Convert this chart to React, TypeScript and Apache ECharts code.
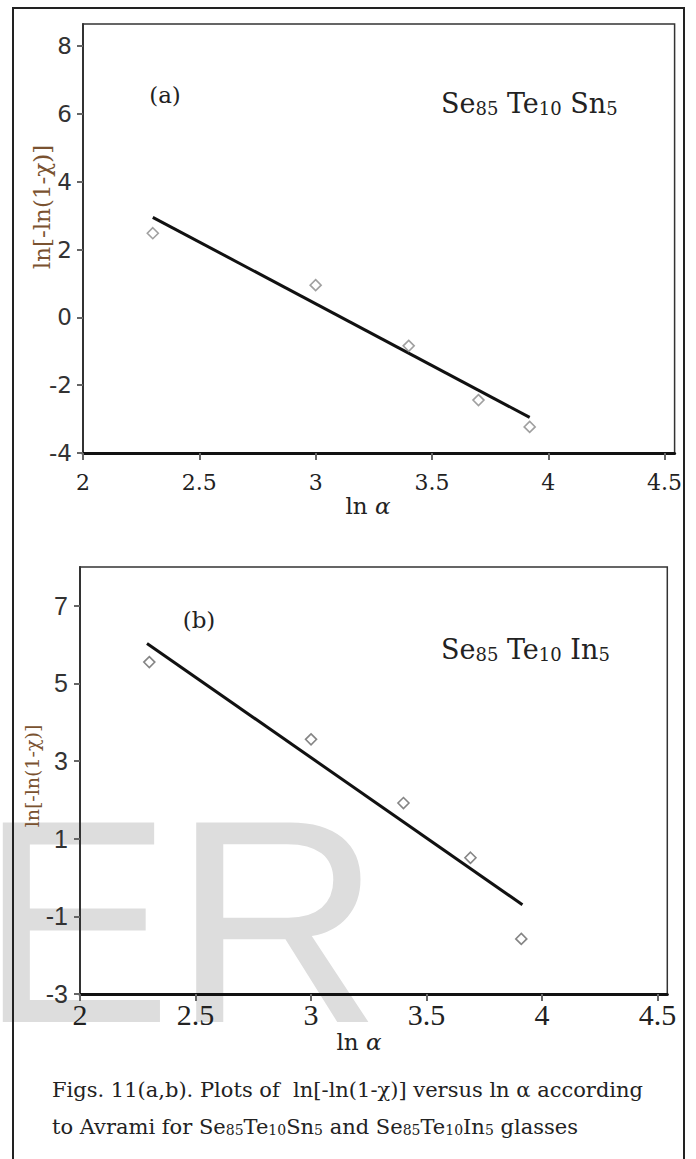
import React, { useEffect, useRef } from "react";
import * as echarts from "echarts";

// ---- Data ----
// (a) Se85Te10Sn5
const lnAlphaA = [2.3, 3.0, 3.4, 3.7, 3.92];
const avramiA = [2.48, 0.95, -0.84, -2.44, -3.23];
const fitXA = [2.3, 3.92];
const fitYA = [2.95, -2.95];

// (b) Se85Te10In5
const lnAlphaB = [2.3, 3.0, 3.4, 3.69, 3.91];
const avramiB = [5.55, 3.56, 1.92, 0.51, -1.58];
const fitXB = [2.29, 3.915];
const fitYB = [6.03, -0.7];

// Tick labels
const xTicks = [2, 2.5, 3, 3.5, 4, 4.5];
const yTicksA = [-4, -2, 0, 2, 4, 6, 8];
const yTicksB = [-3, -1, 1, 3, 5, 7];

const pairs = (xs: number[], ys: number[]) => xs.map((x, i) => [x, ys[i]]);

const SERIF = "DejaVu Serif";
const TIMES = "Liberation Serif";

export default function App() {
  const ref = useRef<HTMLDivElement>(null);

  useEffect(() => {
    if (!ref.current) return;
    const chart = echarts.init(ref.current, undefined, { renderer: "svg" });

    const xAxisBase = (gridIndex: number, max: number, labelFont: string, labelSize: number, margin: number) => ({
      type: "value",
      gridIndex,
      min: 2,
      max,
      axisLine: { show: true, onZero: false, lineStyle: { color: "#111", width: 3 } },
      axisTick: { show: true, customValues: xTicks, length: 7, lineStyle: { color: "#666", width: 2 } },
      axisLabel: { customValues: xTicks, margin, fontFamily: labelFont, fontSize: labelSize, color: "#222" },
      splitLine: { show: false },
    });

    const yAxisBase = (gridIndex: number, min: number, max: number, ticks: number[], labelFont: string, labelSize: number, margin: number) => ({
      type: "value",
      gridIndex,
      min,
      max,
      axisLine: { show: true, onZero: false, lineStyle: { color: "#333", width: 2 } },
      axisTick: { show: true, customValues: ticks, length: 6, lineStyle: { color: "#666", width: 2 } },
      axisLabel: { customValues: ticks, margin, fontFamily: labelFont, fontSize: labelSize, color: "#333" },
      splitLine: { show: false },
    });

    const sub = (size: number, lh: number) => ({ fontFamily: SERIF, fontSize: size, fill: "#222", verticalAlign: "bottom", lineHeight: lh });

    chart.setOption({
      animation: false,
      backgroundColor: "#ffffff",
      grid: [
        { left: 83, top: 24, width: 591.6, height: 429, show: true, borderColor: "#333", borderWidth: 1.5, containLabel: false },
        { left: 80, top: 567, width: 587.3, height: 427, show: true, borderColor: "#333", borderWidth: 1.5, containLabel: false },
      ],
      xAxis: [
        xAxisBase(0, 4.543, SERIF, 22, 18),
        xAxisBase(1, 4.542, TIMES, 30, 5),
      ],
      yAxis: [
        yAxisBase(0, -4, 8.65, yTicksA, "DejaVu Sans", 23, 11),
        yAxisBase(1, -3, 8, yTicksB, "Liberation Sans", 25, 12),
      ],
      series: [
        {
          type: "line",
          xAxisIndex: 0,
          yAxisIndex: 0,
          data: pairs(fitXA, fitYA),
          symbol: "none",
          lineStyle: { color: "#111", width: 3 },
          z: 3,
        },
        {
          type: "scatter",
          xAxisIndex: 0,
          yAxisIndex: 0,
          data: pairs(lnAlphaA, avramiA),
          symbol: "diamond",
          symbolSize: 11,
          itemStyle: { color: "#fff", borderColor: "#888", borderWidth: 1.6 },
          z: 4,
        },
        {
          type: "line",
          xAxisIndex: 1,
          yAxisIndex: 1,
          data: pairs(fitXB, fitYB),
          symbol: "none",
          lineStyle: { color: "#111", width: 3 },
          z: 3,
        },
        {
          type: "scatter",
          xAxisIndex: 1,
          yAxisIndex: 1,
          data: pairs(lnAlphaB, avramiB),
          symbol: "diamond",
          symbolSize: 11,
          itemStyle: { color: "#fff", borderColor: "#666", borderWidth: 1.6 },
          z: 4,
        },
      ],
      graphic: [
        {
          type: "text",
          z: -100,
          x: -21,
          y: 921,
          style: { text: "ER", font: "290px 'Liberation Sans'", fill: "#dddddd", align: "left", verticalAlign: "middle" },
        },
        {
          type: "rect",
          z: 50,
          shape: { x: 13, y: 8, width: 671, height: 1200 },
          style: { fill: "none", stroke: "#222", lineWidth: 2 },
        },
        // y-axis names
        {
          type: "text",
          x: 42,
          y: 207,
          rotation: Math.PI / 2,
          style: { text: "ln[-ln(1-χ)]", font: `23px '${SERIF}'`, fill: "#7a5230", align: "center", verticalAlign: "middle" },
        },
        {
          type: "text",
          x: 32,
          y: 776,
          rotation: Math.PI / 2,
          style: { text: "ln[-ln(1-χ)]", font: `19px '${SERIF}'`, fill: "#7a5230", align: "center", verticalAlign: "middle" },
        },
        // x-axis names
        {
          type: "text",
          x: 368,
          y: 506,
          style: {
            text: "{a|ln }{b|α}",
            align: "center",
            verticalAlign: "middle",
            rich: {
              a: { fontFamily: SERIF, fontSize: 23, fill: "#222" },
              b: { fontFamily: SERIF, fontSize: 23, fontStyle: "italic", fill: "#222" },
            },
          },
        },
        {
          type: "text",
          x: 359,
          y: 1042,
          style: {
            text: "{a|ln }{b|α}",
            align: "center",
            verticalAlign: "middle",
            rich: {
              a: { fontFamily: SERIF, fontSize: 23, fill: "#222" },
              b: { fontFamily: SERIF, fontSize: 23, fontStyle: "italic", fill: "#222" },
            },
          },
        },
        // panel letters
        {
          type: "text",
          x: 165,
          y: 95,
          style: { text: "(a)", font: `23px '${SERIF}'`, fill: "#222", align: "center", verticalAlign: "middle" },
        },
        {
          type: "text",
          x: 199,
          y: 620,
          style: { text: "(b)", font: `23px '${SERIF}'`, fill: "#222", align: "center", verticalAlign: "middle" },
        },
        // composition labels
        {
          type: "text",
          x: 441,
          y: 102,
          style: {
            text: "{m|Se}{s|85}{m| Te}{s|10}{m| Sn}{s|5}",
            align: "left",
            verticalAlign: "middle",
            rich: { m: sub(27, 30), s: sub(18, 19) },
          },
        },
        {
          type: "text",
          x: 441,
          y: 648,
          style: {
            text: "{m|Se}{s|85}{m| Te}{s|10}{m| In}{s|5}",
            align: "left",
            verticalAlign: "middle",
            rich: { m: sub(27, 30), s: sub(18, 19) },
          },
        },
        // caption
        {
          type: "text",
          x: 52,
          y: 1090,
          style: {
            text: "Figs. 11(a,b). Plots of  ln[-ln(1-χ)] versus ln α according",
            font: `21px '${SERIF}'`,
            fill: "#222",
            align: "left",
            verticalAlign: "middle",
          },
        },
        {
          type: "text",
          x: 52,
          y: 1125,
          style: {
            text: "{t|to Avrami for Se}{s|85}{t|Te}{s|10}{t|Sn}{s|5}{t| and Se}{s|85}{t|Te}{s|10}{t|In}{s|5}{t| glasses}",
            align: "left",
            verticalAlign: "middle",
            rich: {
              t: { fontFamily: SERIF, fontSize: 21, fill: "#222", verticalAlign: "bottom", lineHeight: 24 },
              s: { fontFamily: SERIF, fontSize: 14, fill: "#222", verticalAlign: "bottom", lineHeight: 13 },
            },
          },
        },
      ],
    });

    return () => chart.dispose();
  }, []);

  return (
    <div
      ref={ref}
      style={{ position: "absolute", left: 0, top: 0, width: 696, height: 1159 }}
    />
  );
}
